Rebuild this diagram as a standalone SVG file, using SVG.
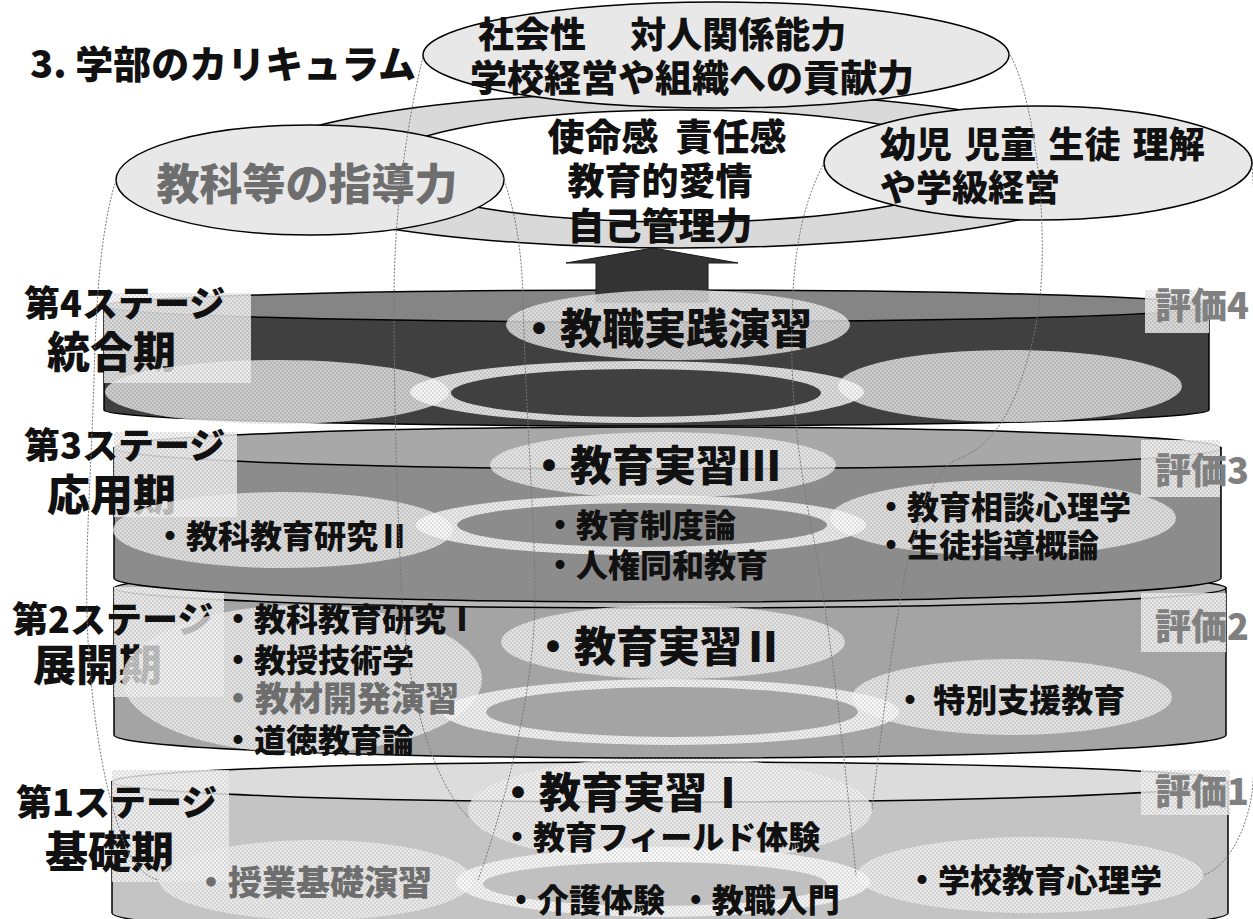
<svg xmlns="http://www.w3.org/2000/svg" width="1253" height="919" viewBox="0 0 1253 919">
<defs>
<pattern id="pt" width="4" height="4" patternUnits="userSpaceOnUse">
<rect width="4" height="4" fill="#f4f4f4"/>
<rect width="2" height="2" fill="#d8d8d8"/>
<rect x="2" y="2" width="2" height="2" fill="#d8d8d8"/>
</pattern>
<pattern id="pw" width="4" height="4" patternUnits="userSpaceOnUse">
<rect width="4" height="4" fill="#ffffff"/>
<rect width="2" height="2" fill="#e4e4e4"/>
<rect x="2" y="2" width="2" height="2" fill="#e4e4e4"/>
</pattern>
</defs>
<style>
text{font-family:"Noto Sans CJK JP","Noto Sans CJK SC",sans-serif;font-weight:900;fill:#111}
.g{fill:#6e6e6e}
.h{fill:#808080}
.oe{fill:#e8e8e8;stroke:#000;stroke-width:1.5}
.lt{fill:url(#pt);fill-opacity:.78}
.rg{fill:url(#pw);fill-opacity:.82}
.lb{fill:url(#pt);fill-opacity:.85}
.cy{stroke:#000;stroke-width:1.5}
.dot{fill:none;stroke:#777777;stroke-width:1;stroke-dasharray:2 1.5}
.f42{font-size:42px}
.f36{font-size:36px}
.f32{font-size:32px}
.f34{font-size:34px}
</style>
<rect width="1253" height="919" fill="#ffffff"/>

<g id="title"><text x="30" y="78" style="font-size:38px">3. 学部のカリキュラム</text></g>

<g id="ring">
<path d="M240,170 a440,78 0 1 0 880,0 a440,78 0 1 0 -880,0 Z M380,166 a300,56 0 1 0 600,0 a300,56 0 1 0 -600,0 Z" fill-rule="evenodd" fill="#d9d9d9" stroke="#000" stroke-width="1.5"/>
<text x="667" y="151" text-anchor="middle" style="font-size:37px" xml:space="preserve">使命感  責任感</text>
<text x="660" y="195" text-anchor="middle" style="font-size:37px">教育的愛情</text>
<text x="660" y="240" text-anchor="middle" style="font-size:37px">自己管理力</text>
</g>

<g id="n-social">
<ellipse cx="716" cy="55" rx="293" ry="53" class="oe"/>
<text x="478" y="48" class="f36" xml:space="preserve">社会性　 対人関係能力</text>
<text x="470" y="92" style="font-size:37px">学校経営や組織への貢献力</text>
</g>

<g id="n-subject">
<ellipse cx="310" cy="180" rx="194" ry="55" class="oe"/>
<text x="307" y="200" text-anchor="middle" class="g" style="font-size:43px">教科等の指導力</text>
</g>

<g id="n-pupil">
<ellipse cx="1038" cy="163" rx="214" ry="57" class="oe"/>
<text x="880" y="158" class="f36" style="word-spacing:4px">幼児 児童 生徒 理解</text>
<text x="880" y="201" class="f36">や学級経営</text>
</g>

<!-- Stage 1 -->
<g id="stage1">
<path class="cy" d="M112,782 L112,913 A558,24 0 0 0 1228,913 L1228,782 Z" fill="#c4c4c4"/>
<ellipse class="cy" cx="670" cy="782" rx="558" ry="20" fill="#dcdcdc"/>
<rect class="lb" x="112" y="770" width="117" height="112"/>
<rect class="lb" x="1141" y="770" width="89" height="45"/>
<text x="16" y="816" class="f36">第1ステージ</text>
<text x="45" y="868" style="font-size:43px">基礎期</text>
<text x="1155" y="805" class="f36 h">評価1</text>
<ellipse class="lt" cx="316" cy="880" rx="157" ry="40"/>
<ellipse class="lt" cx="1030" cy="875" rx="173" ry="38"/>
<ellipse class="lt" cx="670" cy="810" rx="202" ry="53"/>
<ellipse class="rg" cx="663" cy="882" rx="207" ry="35"/>
<ellipse cx="655" cy="884" rx="172" ry="22" fill="#c0c0c0"/>
<text x="497" y="808" class="f42">・教育実習Ⅰ</text>
<text x="501" y="849" class="f32">・教育フィールド体験</text>
<text x="194" y="895" class="f34 g">・授業基礎演習</text>
<text x="505" y="912" class="f32" xml:space="preserve">・介護体験  ・教職入門</text>
<text x="906" y="892" class="f32">・学校教育心理学</text>
</g>

<!-- Stage 2 -->
<g id="stage2">
<path class="cy" d="M114,588 L114,735 A556,23 0 0 0 1226,735 L1226,588 Z" fill="#a4a4a4"/>
<ellipse class="cy" cx="670" cy="588" rx="556" ry="20" fill="#b8b8b8"/>
<rect class="lb" x="114" y="587" width="110" height="110"/>
<rect class="lb" x="1141" y="593" width="85" height="59"/>
<text x="12" y="633" class="f36">第2ステージ</text>
<text x="33" y="681" style="font-size:43px">展開期</text>
<text x="1155" y="640" class="f36 h">評価2</text>
<ellipse class="lt" cx="302" cy="679" rx="180" ry="74"/>
<ellipse class="lt" cx="1012" cy="697" rx="160" ry="38"/>
<ellipse class="lt" cx="673" cy="642" rx="172" ry="37"/>
<ellipse class="rg" cx="671" cy="712" rx="228" ry="33"/>
<ellipse cx="672" cy="712" rx="186" ry="25" fill="#a4a4a4"/>
<text x="532" y="662" class="f42">・教育実習Ⅱ</text>
<text x="222" y="631" class="f32">・教科教育研究Ⅰ</text>
<text x="222" y="672" class="f32">・教授技術学</text>
<text x="221" y="711" class="f34 g">・教材開発演習</text>
<text x="222" y="752" class="f32">・道徳教育論</text>
<text x="894" y="712" class="f32">・ 特別支援教育</text>
</g>

<!-- Stage 3 -->
<g id="stage3">
<path class="cy" d="M114,448 L114,578 A553.5,24 0 0 0 1221,578 L1221,448 Z" fill="#8c8c8c"/>
<ellipse class="cy" cx="667.5" cy="448" rx="553.5" ry="21" fill="#a8a8a8"/>
<rect class="lb" x="114" y="432" width="123" height="85"/>
<rect class="lb" x="1141" y="440" width="79" height="57"/>
<text x="24" y="459" class="f36">第3ステージ</text>
<text x="47" y="511" style="font-size:43px">応用期</text>
<text x="1155" y="484" class="f36 h">評価3</text>
<ellipse class="lt" cx="283" cy="530" rx="170" ry="38"/>
<ellipse class="lt" cx="1003" cy="518" rx="173" ry="38"/>
<ellipse class="lt" cx="663" cy="465" rx="173" ry="33"/>
<ellipse class="rg" cx="641" cy="525" rx="225" ry="30"/>
<ellipse cx="642" cy="525" rx="185" ry="22" fill="#8c8c8c"/>
<text x="528" y="481" class="f42">・教育実習Ⅲ</text>
<text x="154" y="548" class="f32">・教科教育研究Ⅱ</text>
<text x="544" y="537" class="f32">・教育制度論</text>
<text x="544" y="577" class="f32">・人権同和教育</text>
<text x="875" y="519" class="f32">・教育相談心理学</text>
<text x="875" y="557" class="f32">・生徒指導概論</text>
</g>

<!-- Stage 4 -->
<g id="stage4">
<path class="cy" d="M104,306 L104,410 A552.5,16 0 0 0 1209,410 L1209,306 Z" fill="#404040"/>
<ellipse class="cy" cx="656.5" cy="306" rx="552.5" ry="16" fill="#858585"/>
<rect class="lb" x="104" y="293" width="147" height="90"/>
<rect class="lb" x="1145" y="290" width="64" height="43"/>
<text x="24" y="317" class="f36">第4ステージ</text>
<text x="47" y="368" style="font-size:43px">統合期</text>
<text x="1155" y="319" class="f36 h">評価4</text>
</g>

<g id="connectors">
<polygon points="566,263 653,248 738,263 708,263 708,302 596,302 596,263" fill="#333333" stroke="#1a1a1a" stroke-width="1"/>
</g>

<g id="stage4-items">
<ellipse class="lt" cx="277" cy="392" rx="172" ry="32"/>
<ellipse class="lt" cx="1010" cy="386" rx="172" ry="36"/>
<ellipse class="lt" cx="678" cy="325" rx="172" ry="35"/>
<ellipse class="rg" cx="637" cy="392" rx="227" ry="31"/>
<ellipse cx="636" cy="393" rx="185" ry="24" fill="#404040"/>
<text x="518" y="344" class="f42">・教職実践演習</text>
</g>

<g id="links">
<path class="dot" d="M423,57 C410,110 394,200 394,300 C394,420 398,520 402,600 C408,700 435,785 469,818"/>
<path class="dot" d="M116,180 C102,225 96,290 94,380 C90,500 84,560 88,640 C94,740 108,800 125,845 C135,868 148,878 159,880"/>
<path class="dot" d="M503,177 C515,210 522,250 523,300 C526,420 535,520 535,600 C534,700 500,820 478,880"/>
<path class="dot" d="M823,165 C800,210 793,260 792,320 C790,400 800,470 812,530 C828,610 845,760 856,875"/>
<path class="dot" d="M1010,55 C1025,80 1040,150 1042,230 C1044,300 1035,340 1020,383 C1005,425 985,450 955,460 C935,470 915,520 902,590 C890,660 880,740 872,810"/>
<path class="dot" d="M1252,165 C1262,300 1262,700 1252,793 C1245,840 1222,870 1203,875"/>
</g>
</svg>
